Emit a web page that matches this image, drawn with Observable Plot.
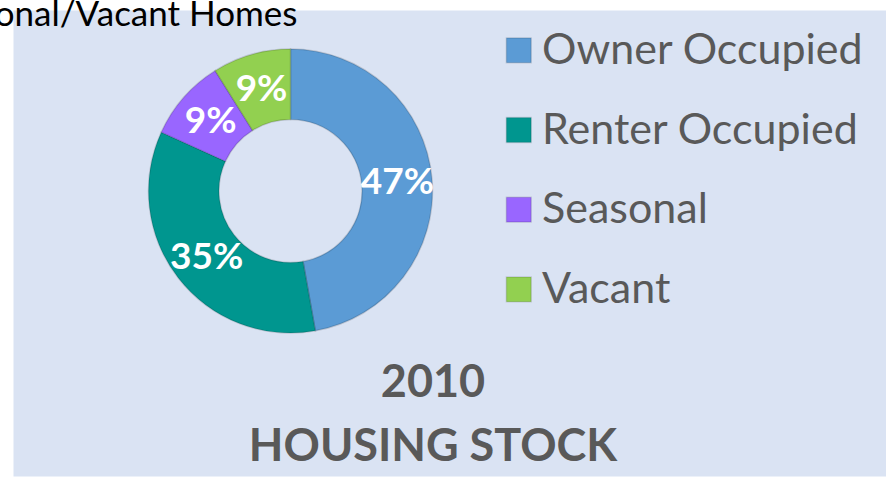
<!DOCTYPE html>
<html><head><meta charset="utf-8">
<script src="https://cdn.jsdelivr.net/npm/d3@7"></script>
<script src="https://cdn.jsdelivr.net/npm/@observablehq/plot@0.6"></script>
<style>body{margin:0;background:#fff;} svg{display:block}</style>
</head><body><div id="chart"></div>
<script>
// ---- data ----
const categories = ["Owner Occupied", "Renter Occupied", "Seasonal", "Vacant"];
const shares = [47.2, 34.6, 9.3, 8.9];
const labels = ["47%", "35%", "9%", "9%"];
const colors = ["#5B9BD5", "#00968F", "#9966FF", "#92D050"];
const titleLines = ["2010", "HOUSING STOCK"];
const headerText = "Seasonal/Vacant Homes";

// ---- layout ----
const W = 886, H = 477;
const R = 142, r0 = 71.5;          // outer / inner radius in px
const cx = 290.5, cy = 191;        // donut center in px
const panel = {left: 13, top: 10, right: 886, bottom: 476};
const inner = r0 / R;
const toX = px => (px - cx) / R;
const toY = py => (cy - py) / R;

const data = categories.map((c, i) => ({category: c, share: shares[i], label: labels[i]}));
const arcs = d3.pie().sort(null).value(d => d.share)(data);
const mid = (inner + 1) / 2;
const labelPts = arcs.map(a => {
  const t = (a.startAngle + a.endAngle) / 2;
  return {label: a.data.label, x: mid * Math.sin(t), y: mid * Math.cos(t)};
});

function donut(index, scales) {
  const {x, y, color} = scales;
  const k = x(1) - x(0);
  const g = d3.create("svg:g").attr("transform", `translate(${x(0)},${y(0)})`);
  const arc = d3.arc().innerRadius(inner * k).outerRadius(k);
  g.selectAll("path").data(arcs).join("path")
    .attr("d", arc)
    .attr("fill", d => color(d.data.category))
    .attr("stroke", "rgba(0,0,0,0.15)")
    .attr("stroke-width", 1.5);
  return g.node();
}

const legRowY = i => toY(49.8 + i * 79.7);
const font = "Lato";

const chart = Plot.plot({
  width: W, height: H,
  marginLeft: panel.left, marginTop: panel.top,
  marginRight: W - panel.right, marginBottom: H - panel.bottom,
  x: {domain: [toX(panel.left), toX(panel.right)], axis: null},
  y: {domain: [toY(panel.bottom), toY(panel.top)], axis: null},
  color: {domain: categories, range: colors},
  style: {background: "#fff", fontFamily: font, overflow: "hidden"},
  marks: [
    Plot.frame({fill: "#DAE3F3", stroke: "none"}),
    donut,
    Plot.text(labelPts, {x: "x", y: "y", text: "label", fill: "white",
      fontWeight: "bold", fontSize: 37, fontFamily: font}),
    Plot.dot(data, {x: toX(518.3), y: (d, i) => legRowY(i), symbol: "square", r: 14,
      fill: "category", stroke: "rgba(0,0,0,0.12)", strokeWidth: 1.5}),
    Plot.text(data, {x: toX(541.5), y: (d, i) => legRowY(i), text: "category",
      textAnchor: "start", fill: "#595959", fontSize: 43, fontFamily: font}),
    Plot.text(titleLines, {x: toX(432.5), y: (d, i) => toY(381.7 + i * 64), text: d => d,
      fill: "#595959", fontWeight: "bold", fontSize: 45, fontFamily: font}),
    Plot.text([headerText], {x: toX(297), y: toY(14.5), text: d => d, textAnchor: "end",
      fill: "#000", fontSize: 35, fontFamily: font})
  ]
});
document.getElementById("chart").appendChild(chart);
</script>
</body></html>
